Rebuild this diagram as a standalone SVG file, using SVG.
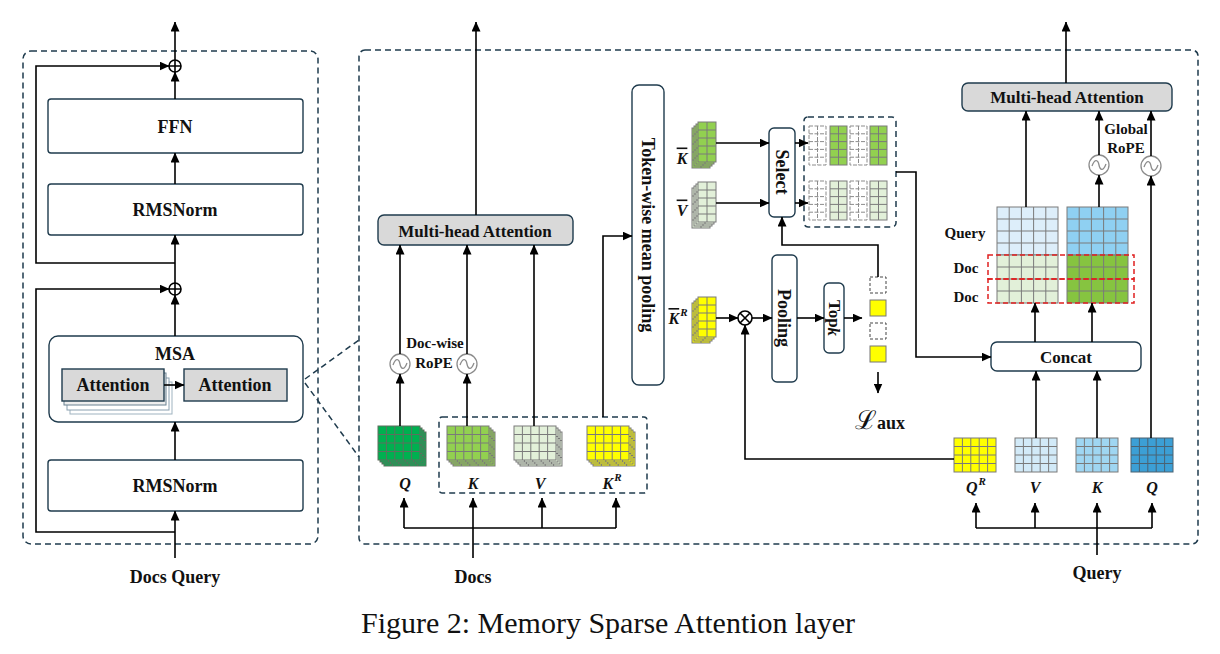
<svg xmlns="http://www.w3.org/2000/svg" width="1220" height="654" viewBox="0 0 1220 654">
<style>
.box{fill:#fff;stroke:#1f3b4d;stroke-width:1.4}
.gbox{fill:#d9d9d9;stroke:#1f3b4d;stroke-width:1.4}
.dash{fill:none;stroke:#1f3b4d;stroke-width:1.5;stroke-dasharray:6 4}
.rdash{fill:none;stroke:#e02020;stroke-width:1.5;stroke-dasharray:5 3}
.ln{fill:none;stroke:#000;stroke-width:1.6}
.arr{marker-end:url(#ah)}
.t{font-family:"Liberation Serif",serif;font-weight:bold;text-anchor:middle;dominant-baseline:central;fill:#111}
.it{font-style:italic}
.rope{fill:#fff;stroke:#8c8c8c;stroke-width:1.3}
.gr{stroke:#7a7a7a;stroke-width:1}
</style>
<defs>
<marker id="ah" markerWidth="10" markerHeight="9" refX="9.5" refY="4.5" orient="auto" markerUnits="userSpaceOnUse"><path d="M0,0 L10,4.5 L0,9 z" fill="#000"/></marker>
<g id="g54"><rect width="42" height="34"/><path d="M8.4,0v34M16.8,0v34M25.2,0v34M33.6,0v34M0,8.5h42M0,17h42M0,25.5h42" fill="none"/></g>
<g id="g25"><rect width="18" height="40"/><path d="M9,0v40M0,8h18M0,16h18M0,24h18M0,32h18" fill="none"/></g>
<g id="gs"><rect width="17" height="39"/><path d="M8.5,0v39M0,7.8h17M0,15.6h17M0,23.4h17M0,31.2h17" fill="none"/></g>
<g id="g58"><rect width="61" height="48"/><path d="M12.2,0v48M24.4,0v48M36.6,0v48M48.8,0v48M0,12h61M0,24h61M0,36h61" fill="none"/></g>
<g id="ropeSym"><circle r="10" class="rope"/><path d="M-7,1 C-4,-7 -1,-5 0,0 C1,5 4,7 7,-1" fill="none" stroke="#8c8c8c" stroke-width="1.3"/></g>
</defs>

<!-- Left panel -->
<g id="left-panel">
<rect x="23" y="51" width="295" height="493" rx="8" class="dash"/>
</g>
<g id="ffn"><rect x="48" y="99" width="255" height="54" rx="3" class="box"/><text x="175" y="127" class="t" font-size="18">FFN</text></g>
<g id="rmsnorm1"><rect x="48" y="184" width="255" height="51" rx="3" class="box"/><text x="175" y="210" class="t" font-size="18">RMSNorm</text></g>
<g id="msa">
<rect x="49" y="336" width="254" height="86" rx="9" class="box"/>
<text x="175" y="354" class="t" font-size="18">MSA</text>
<rect x="70" y="382" width="102" height="32" fill="#fff" stroke="#9fb3c0" stroke-width="1"/>
<rect x="67" y="378" width="102" height="32" fill="#fff" stroke="#8aa0b0" stroke-width="1"/>
<rect x="64" y="373" width="102" height="32" fill="#eee" stroke="#6b8292" stroke-width="1"/>
<rect x="62" y="369" width="102" height="32" class="gbox"/>
<text x="113" y="385" class="t" font-size="18">Attention</text>
<rect x="184" y="369" width="103" height="32" class="gbox"/>
<text x="235" y="385" class="t" font-size="18">Attention</text>
</g>
<g id="rmsnorm2"><rect x="48" y="460" width="255" height="51" rx="3" class="box"/><text x="175" y="486" class="t" font-size="18">RMSNorm</text></g>
<g id="add1"><circle cx="175" cy="66" r="6" fill="#fff" stroke="#000" stroke-width="1.6"/><path d="M169,66h12M175,60v12" stroke="#000" stroke-width="1.6"/></g>
<g id="add2"><circle cx="175" cy="289" r="6" fill="#fff" stroke="#000" stroke-width="1.6"/><path d="M169,289h12M175,283v12" stroke="#000" stroke-width="1.6"/></g>
<text x="175" y="577" class="t" font-size="18">Docs Query</text>

<!-- Main panel -->
<g id="main-panel"><rect x="359" y="50" width="839" height="494" rx="6" class="dash"/></g>
<g id="zoom-lines"><path d="M305,379 L359,340 M305,383 L359,457" class="dash"/></g>

<g id="mha-mid"><rect x="378" y="215" width="195" height="30" rx="6" class="gbox"/><text x="475" y="231" class="t" font-size="17">Multi-head Attention</text></g>
<g id="rope-mid">
<use href="#ropeSym" x="400" y="364"/>
<use href="#ropeSym" x="467" y="364"/>
<text x="435" y="343" class="t" font-size="15">Doc-wise</text>
<text x="434" y="363" class="t" font-size="15">RoPE</text>
</g>
<g id="q-mid" fill="#00b050" stroke="#5e6e5e" stroke-width="1">
<use href="#g54" x="384" y="432"/><use href="#g54" x="382" y="430"/><use href="#g54" x="380" y="428"/><use href="#g54" x="378" y="426"/>
</g>
<g id="kv-group"><rect x="439" y="417" width="208" height="76" rx="3" class="dash"/></g>
<g id="k-mid" fill="#92d050" class="gr">
<use href="#g54" x="453" y="432"/><use href="#g54" x="451" y="430"/><use href="#g54" x="449" y="428"/><use href="#g54" x="447" y="426"/>
</g>
<g id="v-mid" fill="#e2f0d9" class="gr">
<use href="#g54" x="520" y="432"/><use href="#g54" x="518" y="430"/><use href="#g54" x="516" y="428"/><use href="#g54" x="514" y="426"/>
</g>
<g id="kr-mid" fill="#ffff00" class="gr">
<use href="#g54" x="593" y="432"/><use href="#g54" x="591" y="430"/><use href="#g54" x="589" y="428"/><use href="#g54" x="587" y="426"/>
</g>
<g id="labels-mid">
<text x="405" y="483" class="t it" font-size="16">Q</text>
<text x="473" y="483" class="t it" font-size="16">K</text>
<text x="540" y="483" class="t it" font-size="16">V</text>
<text x="612" y="483" class="t it" font-size="16">K<tspan font-size="11" dx="1" dy="-6">R</tspan></text>
<text x="473" y="577" class="t" font-size="18">Docs</text>
</g>

<g id="token-pool"><rect x="632" y="85" width="32" height="300" rx="7" class="box"/><text x="648" y="235" class="t" font-size="18" transform="rotate(90 648 235)">Token-wise mean pooling</text></g>

<g id="kbar" fill="#92d050" class="gr">
<use href="#g25" x="692" y="128"/><use href="#g25" x="694" y="126"/><use href="#g25" x="696" y="124"/><use href="#g25" x="698" y="122"/>
</g>
<g id="vbar" fill="#e2f0d9" class="gr">
<use href="#g25" x="692" y="188"/><use href="#g25" x="694" y="186"/><use href="#g25" x="696" y="184"/><use href="#g25" x="698" y="182"/>
</g>
<g id="krbar" fill="#ffff00" class="gr">
<use href="#g25" x="692" y="303"/><use href="#g25" x="694" y="301"/><use href="#g25" x="696" y="299"/><use href="#g25" x="698" y="297"/>
</g>
<g id="bar-labels">
<text x="682" y="158" class="t it" font-size="16" text-decoration="overline">K</text>
<text x="682" y="210" class="t it" font-size="16" text-decoration="overline">V</text>
<text x="678" y="318" class="t it" font-size="16"><tspan text-decoration="overline">K</tspan><tspan font-size="11" dx="1" dy="-6">R</tspan></text>
</g>

<g id="select"><rect x="769" y="128" width="26" height="89" rx="5" class="box"/><text x="782" y="172" class="t" font-size="18" transform="rotate(90 782 172)">Select</text></g>
<g id="selected">
<rect x="804" y="117" width="92" height="110" rx="4" class="dash"/>
<g fill="#fff" stroke="#8c8c8c" stroke-width="1" stroke-dasharray="4 1.5"><use href="#gs" x="809" y="126"/><use href="#gs" x="850" y="126"/><use href="#gs" x="809" y="181"/><use href="#gs" x="850" y="181"/></g>
<g fill="#92d050" class="gr"><use href="#gs" x="830" y="126"/><use href="#gs" x="870" y="126"/></g>
<g fill="#e2f0d9" class="gr"><use href="#gs" x="830" y="181"/><use href="#gs" x="870" y="181"/></g>
</g>

<g id="mult"><circle cx="745" cy="318" r="7" fill="#fff" stroke="#000" stroke-width="1.6"/><path d="M740,313l10,10M750,313l-10,10" stroke="#000" stroke-width="1.6"/></g>
<g id="pooling"><rect x="772" y="255" width="25" height="127" rx="5" class="box"/><text x="784" y="318" class="t" font-size="18" transform="rotate(90 784 318)">Pooling</text></g>
<g id="topk"><rect x="824" y="283" width="20" height="70" rx="5" class="box"/><text x="834" y="318" class="t" font-size="17" transform="rotate(90 834 318)">Top<tspan class="it">k</tspan></text></g>
<g id="topk-out">
<rect x="870" y="277" width="16" height="16" fill="#fff" stroke="#444" stroke-width="1" stroke-dasharray="3 2"/>
<rect x="870" y="300" width="16" height="16" fill="#ffff00" stroke="#777" stroke-width="1"/>
<rect x="870" y="323" width="16" height="16" fill="#fff" stroke="#444" stroke-width="1" stroke-dasharray="3 2"/>
<rect x="870" y="346" width="16" height="16" fill="#ffff00" stroke="#777" stroke-width="1"/>
<text x="880" y="420" class="t" font-size="26"><tspan font-weight="normal" font-family="DejaVu Serif, serif">ℒ</tspan><tspan font-size="18" dy="3">aux</tspan></text>
</g>

<!-- Right section -->
<g id="mha-right"><rect x="962" y="83" width="210" height="28" rx="6" class="gbox"/><text x="1067" y="97" class="t" font-size="17">Multi-head Attention</text></g>
<g id="rope-right">
<use href="#ropeSym" x="1099" y="165"/>
<use href="#ropeSym" x="1151" y="166"/>
<text x="1126" y="129" class="t" font-size="15">Global</text>
<text x="1126" y="148" class="t" font-size="15">RoPE</text>
</g>
<g id="cache-grids">
<use href="#g58" x="997" y="207" fill="#ddeefa" class="gr"/>
<use href="#g58" x="997" y="255" fill="#e2f0d9" class="gr"/>
<use href="#g58" x="1067" y="207" fill="#8fd0f2" class="gr"/>
<use href="#g58" x="1067" y="255" fill="#86c440" class="gr"/>
<rect x="988" y="255" width="146" height="24" class="rdash"/>
<rect x="988" y="279" width="146" height="24" class="rdash"/>
<text x="965" y="233" class="t" font-size="15">Query</text>
<text x="966" y="268" class="t" font-size="15">Doc</text>
<text x="966" y="297" class="t" font-size="15">Doc</text>
</g>
<g id="concat"><rect x="991" y="342" width="150" height="29" rx="6" class="box"/><text x="1066" y="357" class="t" font-size="17">Concat</text></g>
<g id="qr-right"><use href="#g54" x="954" y="438" fill="#ffff00" class="gr"/></g>
<g id="v-right"><use href="#g54" x="1015" y="438" fill="#d2eaf8" class="gr"/></g>
<g id="k-right"><use href="#g54" x="1076" y="438" fill="#9fd6f2" class="gr"/></g>
<g id="q-right"><use href="#g54" x="1131" y="438" fill="#3c9fd5" stroke="#4a6272" stroke-width="1"/></g>
<g id="labels-right">
<text x="976" y="487" class="t it" font-size="16">Q<tspan font-size="11" dx="1" dy="-6">R</tspan></text>
<text x="1035" y="487" class="t it" font-size="16">V</text>
<text x="1097" y="487" class="t it" font-size="16">K</text>
<text x="1152" y="487" class="t it" font-size="16">Q</text>
<text x="1097" y="573" class="t" font-size="18">Query</text>
</g>

<g id="connectors">
<path d="M175,60V22" class="ln arr"/>
<path d="M175,263H36V66H169" class="ln arr"/>
<path d="M175,99V72" class="ln arr"/>
<path d="M175,184V153" class="ln arr"/>
<path d="M175,283V235" class="ln arr"/>
<path d="M175,532H36V289H169" class="ln arr"/>
<path d="M175,336V295" class="ln arr"/>
<path d="M175,460V422" class="ln arr"/>
<path d="M175,558V511" class="ln arr"/>
<path d="M164,385H184" class="ln arr"/>
<path d="M476,215V22" class="ln arr"/>
<path d="M400,426V374" class="ln arr"/>
<path d="M400,354V245" class="ln arr"/>
<path d="M467,426V374" class="ln arr"/>
<path d="M467,354V245" class="ln arr"/>
<path d="M534,426V245" class="ln arr"/>
<path d="M603,417V236H632" class="ln arr"/>
<path d="M473,558V528M404,528H616" class="ln"/>
<path d="M404,528V498" class="ln arr"/>
<path d="M473,528V498" class="ln arr"/>
<path d="M542,528V498" class="ln arr"/>
<path d="M616,528V498" class="ln arr"/>
<path d="M716,143H769" class="ln arr"/>
<path d="M716,203H769" class="ln arr"/>
<path d="M795,143H808" class="ln arr"/>
<path d="M795,203H808" class="ln arr"/>
<path d="M896,172H916V357H991" class="ln arr"/>
<path d="M878,277V245H782V217" class="ln arr"/>
<path d="M716,318H738" class="ln arr"/>
<path d="M752,318H772" class="ln arr"/>
<path d="M797,318H824" class="ln arr"/>
<path d="M844,318H862" class="ln arr"/>
<path d="M954,459H745V325" class="ln arr"/>
<path d="M878,372V393" class="ln arr"/>
<path d="M1066,83V22" class="ln arr"/>
<path d="M1026,207V111" class="ln arr"/>
<path d="M1099,207V175" class="ln arr"/>
<path d="M1099,155V111" class="ln arr"/>
<path d="M1151,438V176" class="ln arr"/>
<path d="M1151,156V111" class="ln arr"/>
<path d="M1035,342V303" class="ln arr"/>
<path d="M1092,342V303" class="ln arr"/>
<path d="M1036,438V371" class="ln arr"/>
<path d="M1097,438V371" class="ln arr"/>
<path d="M976,528H1152M1097,555V528" class="ln"/>
<path d="M976,528V503" class="ln arr"/>
<path d="M1035,528V503" class="ln arr"/>
<path d="M1097,528V503" class="ln arr"/>
<path d="M1152,528V503" class="ln arr"/>
</g>

<text x="608" y="622" font-family="Liberation Serif, serif" font-size="30" text-anchor="middle" dominant-baseline="central" fill="#111">Figure 2: Memory Sparse Attention layer</text>
</svg>
